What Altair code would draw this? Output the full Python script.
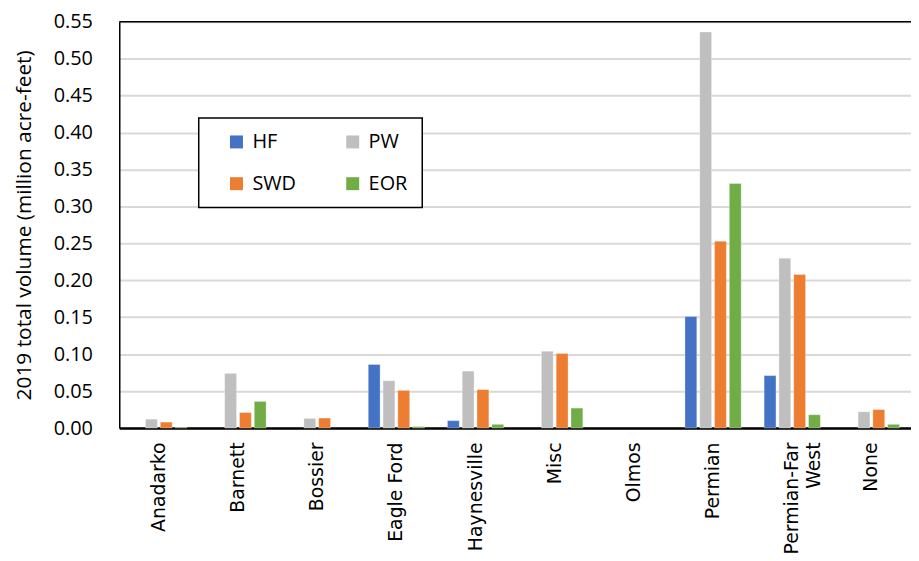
import altair as alt
import pandas as pd

basins = ["Anadarko", "Barnett", "Bossier", "Eagle Ford", "Haynesville",
          "Misc", "Olmos", "Permian", "Permian-Far West", "None"]
series = ["HF", "PW", "SWD", "EOR"]
colors = ["#4472C4", "#BFBFBF", "#ED7D31", "#70AD47"]

hf  = [0.0,   0.0,   0.0,    0.086, 0.010, 0.0,   0.0, 0.151, 0.071, 0.0]
pw  = [0.012, 0.074, 0.013,  0.064, 0.077, 0.104, 0.0, 0.536, 0.230, 0.022]
swd = [0.008, 0.021, 0.0135, 0.051, 0.052, 0.101, 0.0, 0.253, 0.208, 0.025]
eor = [0.001, 0.036, 0.0,    0.002, 0.005, 0.027, 0.0, 0.331, 0.018, 0.005]

rows = []
for s, vals in zip(series, [hf, pw, swd, eor]):
    for b, v in zip(basins, vals):
        rows.append({"basin": b, "series": s, "value": v})
df = pd.DataFrame(rows)

W, H = 797, 409

bars = alt.Chart(df).transform_filter("datum.value > 0").mark_bar(
    stroke="white", strokeWidth=0.6, strokeOpacity=0.5).encode(
    x=alt.X("basin:N", sort=basins, title=None,
            scale=alt.Scale(domain=basins, paddingInner=0.29, paddingOuter=0.145),
            axis=alt.Axis(labelAngle=-90, labelFont="DejaVu Sans", labelFontSize=19,
                          labelColor="black", labelPadding=14, ticks=False,
                          domainColor="black", domainWidth=2.5,
                          labelAlign="right", labelBaseline="middle",
                          labelExpr="datum.value == 'Permian-Far West' ? ['Permian-Far', 'West'] : datum.value",
                          labelLineHeight=22)),
    xOffset=alt.XOffset("series:N", sort=series,
                        scale=alt.Scale(domain=series, paddingInner=0.2)),
    y=alt.Y("value:Q", title="2019 total volume (million acre-feet)",
            scale=alt.Scale(domain=[0, 0.55], nice=False),
            axis=alt.Axis(values=[i * 0.05 for i in range(12)], format=".2f",
                          labelFont="Open Sans", labelFontSize=20, labelColor="black",
                          labelPadding=27, ticks=False,
                          domainColor="black", domainWidth=1.5,
                          gridColor="#D9D9D9", gridWidth=2,
                          titleFont="Open Sans", titleFontSize=21, titleFontWeight="normal",
                          titleColor="black", titlePadding=19)),
    color=alt.Color("series:N", sort=series,
                    scale=alt.Scale(domain=series, range=colors),
                    legend=alt.Legend(title=None, orient="none", legendX=80, legendY=97,
                                      columns=2, columnPadding=33, rowPadding=22,
                                      symbolType="square", symbolSize=170,
                                      symbolStrokeWidth=0, symbolOffset=14,
                                      labelFont="Open Sans",
                                      labelFontSize=20, labelColor="black",
                                      labelOffset=6, padding=14,
                                      strokeColor="black", fillColor="white",
                                      direction="horizontal")),
)

top = alt.Chart(pd.DataFrame({"a": [0]})).mark_rule(color="black", strokeWidth=1.5).encode(
    x=alt.value(0), x2=alt.value(W), y=alt.value(0)
)

chart = alt.layer(bars, top).properties(
    width=W, height=H,
    padding={"left": 112, "top": 12, "right": 0, "bottom": 132},
    autosize=alt.AutoSizeParams(type="none"),
).configure_view(stroke=None).configure_legend(strokeWidth=1.5)

chart.save("out.html", embed_options={"renderer": "svg", "actions": False})
